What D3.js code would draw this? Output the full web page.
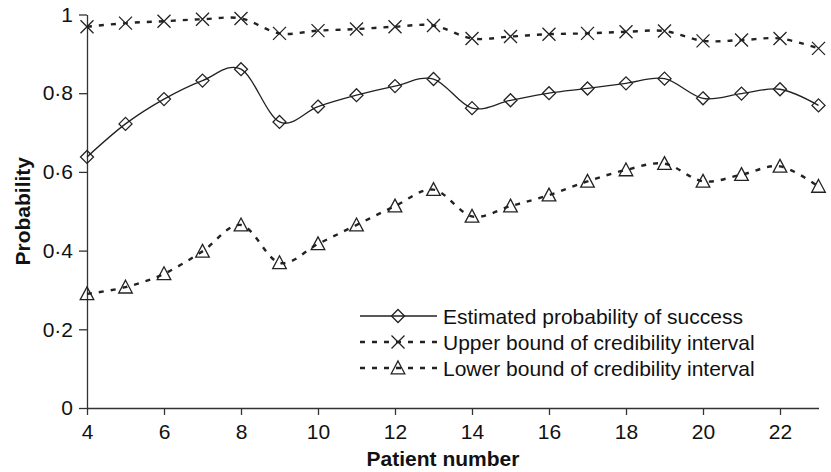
<!DOCTYPE html>
<html>
<head>
<meta charset="utf-8">
<script src="https://cdn.jsdelivr.net/npm/d3@7"></script>
<style>
  html, body { margin: 0; padding: 0; background: #fff; }
  svg { display: block; font-family: "Liberation Sans", Arial, Helvetica, sans-serif; }
</style>
</head>
<body>
<div id="chart"></div>
<script>
// patient numbers 4..23
const patients = [4, 5, 6, 7, 8, 9, 10, 11, 12, 13, 14, 15, 16, 17, 18, 19, 20, 21, 22, 23];

const estimated = [0.638, 0.722, 0.785, 0.832, 0.861, 0.727, 0.766, 0.795, 0.818, 0.836,
                   0.762, 0.782, 0.800, 0.812, 0.825, 0.837, 0.787, 0.799, 0.810, 0.769];
const upperBound = [0.969, 0.978, 0.983, 0.988, 0.990, 0.952, 0.959, 0.963, 0.969, 0.972,
                    0.939, 0.944, 0.950, 0.952, 0.956, 0.958, 0.933, 0.935, 0.939, 0.914];
const lowerBound = [0.290, 0.307, 0.341, 0.398, 0.465, 0.369, 0.417, 0.465, 0.513, 0.555,
                    0.487, 0.513, 0.541, 0.576, 0.605, 0.621, 0.576, 0.593, 0.614, 0.563];

const xTicks = [4, 6, 8, 10, 12, 14, 16, 18, 20, 22];
const yTicks = [0, 0.2, 0.4, 0.6, 0.8, 1];

const legendLabels = [
  'Estimated probability of success',
  'Upper bound of credibility interval',
  'Lower bound of credibility interval'
];

const width = 831, height = 472;
const ink = '#222';

const svg = d3.select('#chart')
  .append('svg')
  .attr('width', width)
  .attr('height', height);

const x = d3.scaleLinear().domain([4, 23]).range([87, 818.5]);
const y = d3.scaleLinear().domain([0, 1]).range([408, 14.5]);

const fmt = d => (d === 0 || d === 1) ? String(d) : d3.format('.1f')(d).replace('.', '\u00b7');

// axes
const xAxis = svg.append('g')
  .attr('transform', `translate(0,${y(0)})`)
  .call(d3.axisBottom(x).tickValues(xTicks).tickSize(7).tickSizeOuter(0).tickPadding(9));

const yAxis = svg.append('g')
  .attr('transform', `translate(${x(4)},0)`)
  .call(d3.axisLeft(y).tickValues(yTicks).tickFormat(fmt).tickSize(8).tickSizeOuter(0).tickPadding(6));

[xAxis, yAxis].forEach(g => {
  g.selectAll('path, line').attr('stroke', '#333').attr('stroke-width', 1.3);
  g.selectAll('text').attr('fill', '#111').style('font-size', '21px').style('font-family', null);
});

// axis titles
svg.append('text')
  .attr('x', 443).attr('y', 466)
  .attr('text-anchor', 'middle')
  .attr('font-weight', 'bold')
  .attr('font-size', 21)
  .attr('fill', '#111')
  .text('Patient number');

svg.append('text')
  .attr('transform', `translate(30,${(y(0) + y(1)) / 2}) rotate(-90)`)
  .attr('text-anchor', 'middle')
  .attr('font-weight', 'bold')
  .attr('font-size', 21)
  .attr('fill', '#111')
  .text('Probability');

// markers
const markerPath = {
  diamond: 'M0,-6.5L6.5,0L0,6.5L-6.5,0Z',
  cross: 'M-6.5,-6.5L6.5,6.5M-6.5,6.5L6.5,-6.5',
  triangle: 'M0,-7L6.8,5.8L-6.8,5.8Z'
};

const series = [
  { values: estimated, marker: 'diamond', dash: null, sw: 1.3 },
  { values: upperBound, marker: 'cross', dash: '5,7', sw: 2.4 },
  { values: lowerBound, marker: 'triangle', dash: '5,7', sw: 2.4 }
];

const line = d3.line()
  .x(d => x(d[0]))
  .y(d => y(d[1]))
  .curve(d3.curveCatmullRom.alpha(0));

series.forEach(s => {
  const pts = patients.map((p, i) => [p, s.values[i]]);

  svg.append('path')
    .datum(pts)
    .attr('d', line)
    .attr('fill', 'none')
    .attr('stroke', ink)
    .attr('stroke-width', s.sw)
    .attr('stroke-dasharray', s.dash);

  svg.selectAll(null)
    .data(pts)
    .enter()
    .append('path')
    .attr('transform', d => `translate(${x(d[0])},${y(d[1])})`)
    .attr('d', markerPath[s.marker])
    .attr('fill', 'none')
    .attr('stroke', ink)
    .attr('stroke-width', 1.3);
});

// legend
const legend = svg.append('g').attr('transform', 'translate(360,316)');

const rows = legend.selectAll('g')
  .data(series)
  .enter()
  .append('g')
  .attr('transform', (d, i) => `translate(0,${i * 26})`);

rows.append('line')
  .attr('x1', 0).attr('x2', 77)
  .attr('stroke', ink)
  .attr('stroke-width', d => d.sw)
  .attr('stroke-dasharray', d => d.dash);

rows.append('path')
  .attr('transform', 'translate(38,0)')
  .attr('d', d => markerPath[d.marker])
  .attr('fill', 'none')
  .attr('stroke', ink)
  .attr('stroke-width', 1.3);

rows.append('text')
  .attr('x', 83)
  .attr('y', 8)
  .attr('font-size', 21)
  .attr('fill', '#111')
  .text((d, i) => legendLabels[i]);
</script>
</body>
</html>
